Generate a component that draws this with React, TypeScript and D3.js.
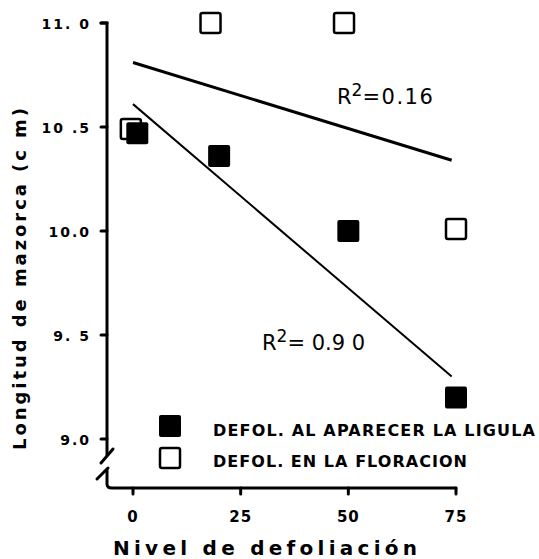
import React from "react";
import * as d3 from "d3";

// defoliation level (%) and ear length (cm)
const ligulaX = [1, 20, 50, 75];
const ligulaY = [10.47, 10.36, 10.0, 9.2];
const floracionX = [-0.5, 18, 49, 75];
const floracionY = [10.49, 11.0, 11.0, 10.01];

// fitted lines, endpoints at 0 and 74
const fitX = [0, 74];
const ligulaFit = [10.61, 9.3];
const floracionFit = [10.81, 10.34];

const yTicks = [9.0, 9.5, 10.0, 10.5, 11.0];
const yTickLabels = ["9.0", "9. 5", "10.0", "10 .5", "11. 0"];
const xTicks = [0, 25, 50, 75];

const W = 539;
const H = 559;

export default function App() {
  const x = d3.scaleLinear().domain([0, 75]).range([133, 456]);
  const y = d3.scaleLinear().domain([9, 11]).range([439, 23]);

  const axisX = 107;
  const baseY = 488;
  const sq = 22;
  const font = "'DejaVu Sans', sans-serif";

  const fitLine = (vals: number[]) =>
    d3
      .line<number>()
      .x((_, i) => x(fitX[i]))
      .y((d) => y(d))(vals) as string;

  return (
    <svg
      width={W}
      height={H}
      style={{ position: "absolute", left: 0, top: 0, background: "#fff" }}
      fontFamily={font}
    >
      {/* y axis with break */}
      <g stroke="#000" strokeWidth={3} fill="none" strokeLinecap="round">
        <path d={`M${axisX - 6},${y(11)} H${axisX} V455`} />
        <line x1={101} y1={463} x2={113} y2={449} />
        <line x1={97} y1={479} x2={108} y2={468} />
        <path d={`M${axisX},470 V${baseY - 4} Q${axisX},${baseY} ${axisX + 5},${baseY} H${x(75)}`} />
        {yTicks.map((t) => (
          <line key={t} x1={axisX - 6} x2={axisX} y1={y(t)} y2={y(t)} />
        ))}
        {xTicks.map((t) => (
          <line key={t} x1={x(t)} x2={x(t)} y1={baseY} y2={baseY + 6} />
        ))}
      </g>

      {yTicks.map((t, i) => (
        <text
          key={t}
          x={91}
          y={y(t) + 6}
          textAnchor="end"
          fontSize={14}
          fontWeight="bold"
          letterSpacing={2}
        >
          {yTickLabels[i]}
        </text>
      ))}
      {xTicks.map((t) => (
        <text
          key={t}
          x={x(t)}
          y={522}
          textAnchor="middle"
          fontSize={15}
          fontWeight="bold"
          letterSpacing={1}
        >
          {t}
        </text>
      ))}

      <text
        x={113}
        y={555}
        fontSize={20}
        fontWeight="bold"
        textLength={304}
        lengthAdjust="spacing"
      >
        Nivel de defoliación
      </text>
      <text
        transform="translate(26,450) rotate(-90)"
        fontSize={18}
        fontWeight="bold"
        textLength={342}
        lengthAdjust="spacing"
      >
        Longitud de mazorca (c m)
      </text>

      {/* fitted lines */}
      <path d={fitLine(floracionFit)} stroke="#000" strokeWidth={3} fill="none" />
      <path d={fitLine(ligulaFit)} stroke="#000" strokeWidth={2} fill="none" />

      {/* open squares: defoliation at flowering */}
      {floracionX.map((d, i) => (
        <rect
          key={"f" + i}
          x={x(d) - sq / 2 + 1}
          y={y(floracionY[i]) - sq / 2 + 1}
          width={sq - 2}
          height={sq - 2}
          rx={2}
          fill="#fff"
          stroke="#000"
          strokeWidth={2.5}
        />
      ))}
      {/* filled squares: defoliation at ligule appearance */}
      {ligulaX.map((d, i) => (
        <rect
          key={"l" + i}
          x={x(d) - sq / 2}
          y={y(ligulaY[i]) - sq / 2}
          width={sq}
          height={sq}
          rx={2}
          fill="#000"
        />
      ))}

      {/* R² labels */}
      <text x={337} y={104} fontSize={21}>
        R<tspan dy={-8} fontSize={17}>2</tspan>
        <tspan dy={8} letterSpacing={1.5}>=0.16</tspan>
      </text>
      <text x={262} y={350} fontSize={21}>
        R<tspan dy={-8} fontSize={17}>2</tspan>
        <tspan dy={8}>= 0.9 0</tspan>
      </text>

      {/* legend */}
      <rect x={159} y={415} width={22} height={22} rx={2} fill="#000" />
      <text
        x={213}
        y={436}
        fontSize={16}
        fontWeight="bold"
        textLength={322}
        lengthAdjust="spacing"
      >
        DEFOL. AL APARECER LA LIGULA
      </text>
      <rect x={160} y={448} width={20} height={20} rx={2} fill="#fff" stroke="#000" strokeWidth={2.5} />
      <text
        x={213}
        y={467}
        fontSize={16}
        fontWeight="bold"
        textLength={254}
        lengthAdjust="spacing"
      >
        DEFOL. EN LA FLORACION
      </text>
    </svg>
  );
}
